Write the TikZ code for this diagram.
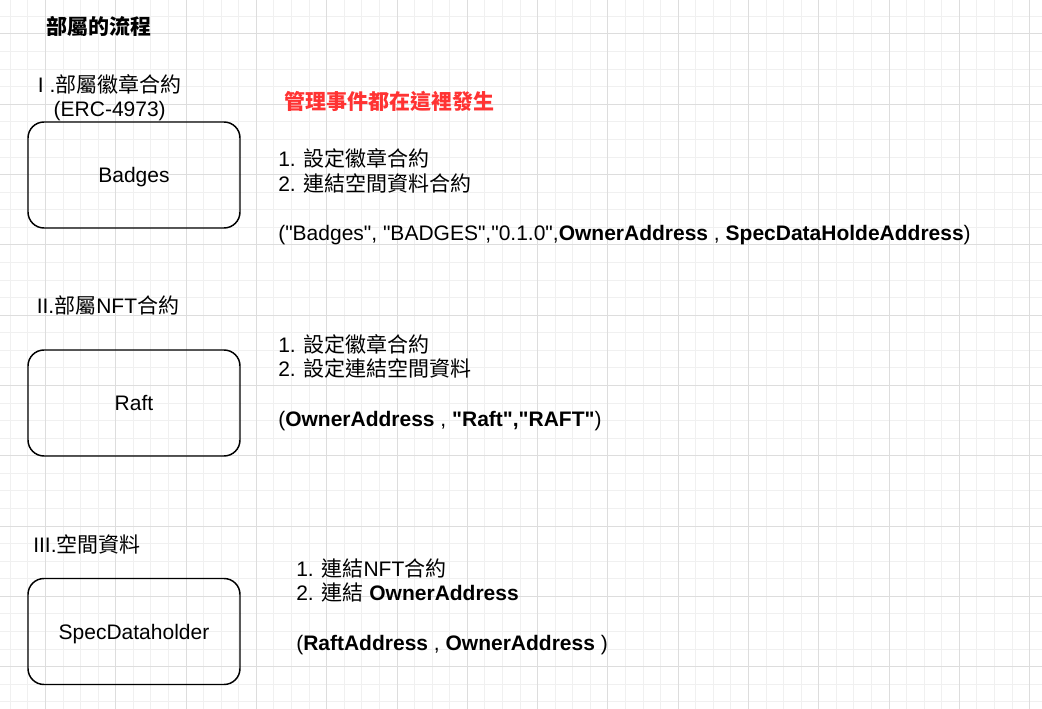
\documentclass[tikz,border=0pt]{standalone}
\usepackage{fontspec}
\setmainfont{Liberation Sans}[Ligatures=TeXOff]
\newfontfamily\cjk{Noto Sans CJK TC}
\usepackage{xcolor}
\usetikzlibrary{positioning}
\definecolor{gridmajor}{HTML}{DDDDDD}
\definecolor{gridminor}{HTML}{F0F0F0}
\definecolor{eventred}{HTML}{FF3333}
\newcommand{\zh}[1]{{\cjk #1}}

\begin{document}
\begin{tikzpicture}[x=0.75pt,y=-0.75pt,
  every node/.style={inner sep=0pt, font=\fontsize{15.75}{18.5}\selectfont},
  minorgrid/.style={gridminor, line width=0.75pt},
  majorgrid/.style={gridmajor, line width=0.75pt},
  contract/.style={draw, rounded corners=12pt, line width=1.1pt, minimum width=159pt, minimum height=79.5pt, text height=11.3pt, text depth=0pt},
  heading/.style={anchor=base west},
  notes/.style={anchor=base west, align=left}]
\useasboundingbox (0,0) rectangle (1042,709);
\fill[white] (0,0) rectangle (1042,709);
\foreach \i in {-2,...,56} \draw[minorgrid] ({45.5+17.575*\i},0) -- ({45.5+17.575*\i},709);
\foreach \i in {-1,...,38} \draw[minorgrid] (0,{34+17.575*\i}) -- (1042,{34+17.575*\i});
\foreach \i in {0,...,14} \draw[majorgrid] ({45.5+70.3*\i},0) -- ({45.5+70.3*\i},709);
\foreach \i in {0,...,9} \draw[majorgrid] (0,{34+70.3*\i}) -- (1042,{34+70.3*\i});

\node[heading] (title) at (46,34.5) {\cjk\bfseries 部屬的流程};
\node[align=center, anchor=base] (badgeshead) at (109.7,117) {I .\zh{部屬徽章合約}\\(ERC-4973)};
\node[heading, text=eventred] (event) at (284,110) {\cjk\bfseries 管理事件都在這裡發生};

\node[contract] (badges) at (134,175) {Badges};
\node[notes] (badgesnote) at (278,241) {1. \zh{設定徽章合約}\\2. \zh{連結空間資料合約}\\[18.5pt]("Badges", "BADGES","0.1.0",\textbf{OwnerAddress} , \textbf{SpecDataHoldeAddress})};

\node[heading] (rafthead) at (36.5,314) {II.\zh{部屬}NFT\zh{合約}};
\node[contract] (raft) at (134,403) {Raft};
\node[notes] (raftnote) at (278,426) {1. \zh{設定徽章合約}\\2. \zh{設定連結空間資料}\\[18.5pt](\textbf{OwnerAddress} , \textbf{"Raft","RAFT"})};

\node[heading] (spechead) at (33,552.5) {III.\zh{空間資料}};
\node[contract] (specdata) at (134,631.5) {SpecDataholder};
\node[notes] (specnote) at (296,650) {1. \zh{連結}NFT\zh{合約}\\2. \zh{連結} \textbf{OwnerAddress}\\[18.5pt](\textbf{RaftAddress} , \textbf{OwnerAddress} )};
\end{tikzpicture}
\end{document}
